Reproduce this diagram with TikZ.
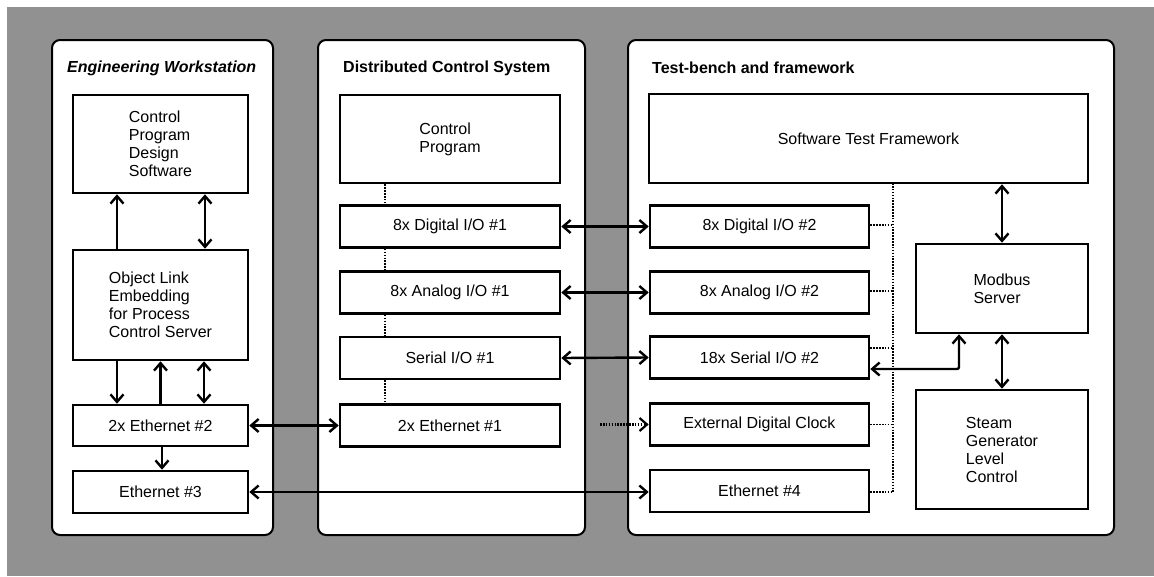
\documentclass[tikz,border=0pt]{standalone}
\usepackage{fontspec}
\setmainfont{Liberation Sans}
\usetikzlibrary{arrows.meta,positioning,calc}
\definecolor{scangray}{RGB}{145,145,145}
\tikzset{
  barb/.tip = {Straight Barb[length=7.5pt, width=13pt]},
  panel/.style = {draw=black, line width=2pt, fill=white, rounded corners=8pt, inner sep=0pt},
  unit/.style = {draw=black, line width=2.6pt, fill=white, inner sep=2pt, align=left, font=\fontsize{16}{18}\selectfont},
  paneltitle/.style = {anchor=west, inner sep=0pt, font=\fontsize{16}{18}\selectfont\bfseries},
  link/.style = {line width=2.4pt, barb-barb},
  feed/.style = {line width=2.4pt, -barb},
  bus/.style = {line width=1.8pt, dash pattern=on 1.6pt off 1.3pt},
}

\begin{document}
\begin{tikzpicture}[x=1pt, y=-1pt]

\useasboundingbox (0,0) rectangle (1154,576);
\fill[scangray] (7,7) rectangle (1154,576);

% the three panels
\node[panel, minimum width=221pt, minimum height=495pt] (ews) at (162.5,287.5) {};
\node[panel, minimum width=267pt, minimum height=495pt] (dcs) at (451.5,287.5) {};
\node[panel, minimum width=486pt, minimum height=495pt] (tb)  at (871,287.5) {};

\node[paneltitle, font=\fontsize{16}{18}\selectfont\bfseries\itshape] (ewsT) at (67,68) {Engineering Workstation};
\node[paneltitle] (dcsT) at (343,68) {Distributed Control System};
\node[paneltitle] (tbT)  at (652,68) {Test-bench and framework};

% Engineering workstation
\begin{scope}[every node/.append style={unit, minimum width=175pt}]
  \node[minimum height=98pt]  (cpds) at (160.5,144)   {Control\\Program\\Design\\Software};
  \node[minimum height=110pt] (ole)  at (160.5,305)   {Object Link\\Embedding\\for Process\\Control Server};
  \node[minimum height=41pt]  (eth2) at (160.5,425.5) {2x Ethernet \#2};
  \node[minimum height=42pt]  (eth3) at (160.5,492)   {Ethernet \#3};
\end{scope}

% Distributed control system
\begin{scope}[every node/.append style={unit, minimum width=220pt, minimum height=42pt}]
  \node[minimum height=88pt] (cp) at (450,139) {Control\\Program};
  \node (dio1) at (450,226.5) {8x Digital I/O \#1};
  \node (aio1) at (450,292.5) {8x Analog I/O \#1};
  \node (sio1) at (450,358)   {Serial I/O \#1};
  \node (eth1) at (450,425.5) {2x Ethernet \#1};
\end{scope}

% Test-bench and framework
\begin{scope}[every node/.append style={unit, minimum width=219pt, minimum height=42pt}]
  \node[minimum width=439pt, minimum height=89pt] (stf) at (868.5,138.5) {Software Test Framework};
  \node (dio2) at (759.5,226.5) {8x Digital I/O \#2};
  \node (aio2) at (759.5,292.5) {8x Analog I/O \#2};
  \node (sio2) at (759.5,357.5) {18x Serial I/O \#2};
  \node (clk)  at (759.5,424.5) {External Digital Clock};
  \node (eth4) at (759.5,491)   {Ethernet \#4};
  \node[minimum width=172pt, minimum height=89pt]  (mbs)  at (1002,288.5) {Modbus\\Server};
  \node[minimum width=172pt, minimum height=119pt] (sglc) at (1002,449.5) {Steam\\Generator\\Level\\Control};
\end{scope}

% links inside the workstation
\draw[feed] ([xshift=-43.5pt]ole.north) -- ([xshift=-43.5pt]cpds.south);
\draw[link] ([xshift=44.5pt]ole.north) -- ([xshift=44.5pt]cpds.south);
\draw[feed] ([xshift=-43.5pt]ole.south) -- ([xshift=-43.5pt]eth2.north);
\draw[feed] (eth2.north) -- (ole.south);
\draw[link] ([xshift=43.5pt]ole.south) -- ([xshift=43.5pt]eth2.north);
\draw[feed] ([xshift=1.5pt]eth2.south) -- ([xshift=1.5pt]eth3.north);

% DCS internal bus
\draw[bus] ([xshift=-65pt]cp.south) -- ([xshift=-65pt]dio1.north);
\draw[bus] ([xshift=-65pt]dio1.south) -- ([xshift=-65pt]aio1.north);
\draw[bus] ([xshift=-65pt]aio1.south) -- ([xshift=-65pt]sio1.north);
\draw[bus] ([xshift=-65pt]sio1.south) -- ([xshift=-65pt]eth1.north);

% links between the panels
\draw[link] (dio1.east) -- (dio2.west);
\draw[link] (aio1.east) -- (aio2.west);
\draw[link] (sio1.east) -- (sio2.west);
\draw[link] (eth2.east) -- (eth1.west);
\draw[link] (eth3.east) -- (eth3.east -| eth4.west);
\coordinate (clkIn) at (600,424.5);
\draw[feed, bus, line width=2.2pt] (clkIn) -- (clk.west);

% test-bench bus and links
\coordinate (busTop) at (893,183);
\coordinate (busEnd) at (893,492);
\draw[bus] (busTop) -- (busEnd);
\draw[bus] ([yshift=1.5pt]dio2.east) -- ([yshift=1.5pt]dio2.east -| busTop);
\draw[bus] ([yshift=1.5pt]aio2.east) -- ([yshift=1.5pt]aio2.east -| busTop);
\draw[bus] ([yshift=9.5pt]sio2.east) -- ([yshift=9.5pt]sio2.east -| busTop);
\draw[bus] (clk.east) -- (clk.east -| busTop);
\draw[bus] ([yshift=-1pt]eth4.east) -- (busEnd);

\draw[link] (mbs.north) -- (mbs.north |- stf.south);
\draw[link] (mbs.south) -- (sglc.north);
\draw[link, rounded corners=2pt] ([xshift=-43pt]mbs.south) |- ([yshift=-11.5pt]sio2.east);

\end{tikzpicture}
\end{document}
